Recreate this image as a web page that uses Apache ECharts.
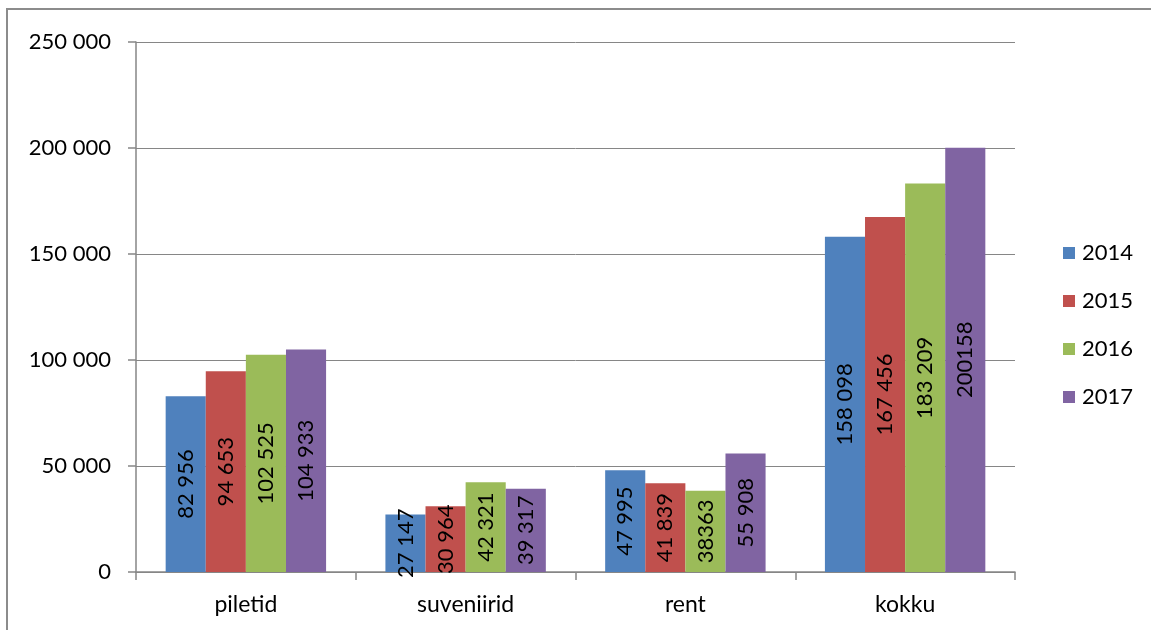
<!DOCTYPE html>
<html>
<head>
<meta charset="utf-8">
<script src="https://cdn.jsdelivr.net/npm/echarts@6/dist/echarts.min.js"></script>
<style>
html,body{margin:0;padding:0;background:#fff;}
#chart{position:absolute;left:0;top:0;width:1151px;height:630px;}
#frame{position:absolute;left:6px;top:8px;width:1170px;height:650px;border:2px solid #8c8c8c;pointer-events:none;}
</style>
</head>
<body>
<div id="chart"></div>
<div id="frame"></div>
<script>
const categories = ['piletid', 'suveniirid', 'rent', 'kokku'];
const seriesNames = ['2014', '2015', '2016', '2017'];
const values2014 = [82956, 27147, 47995, 158098];
const values2015 = [94653, 30964, 41839, 167456];
const values2016 = [102525, 42321, 38363, 183209];
const values2017 = [104933, 39317, 55908, 200158];
const labels2014 = ['82 956', '27 147', '47 995', '158 098'];
const labels2015 = ['94 653', '30 964', '41 839', '167 456'];
const labels2016 = ['102 525', '42 321', '38363', '183 209'];
const labels2017 = ['104 933', '39 317', '55 908', '200158'];
const yTicks = [0, 50000, 100000, 150000, 200000, 250000];
const colors = ['#4F81BD', '#C0504D', '#9BBB59', '#8064A2'];

const allValues = [values2014, values2015, values2016, values2017];
const allLabels = [labels2014, labels2015, labels2016, labels2017];
const FONT = 'Lato, "Open Sans", sans-serif';

function fmt(v) {
  return String(v).replace(/\B(?=(\d{3})+(?!\d))/g, ' ');
}

const chart = echarts.init(document.getElementById('chart'));
chart.setOption({
  animation: false,
  color: colors,
  textStyle: {fontFamily: FONT},
  grid: {left: 136, right: 136, top: 42, bottom: 58},
  legend: {
    orient: 'vertical',
    left: 1058,
    top: 237,
    itemWidth: 12,
    itemHeight: 12,
    itemGap: 26,
    icon: 'rect',
    data: seriesNames,
    textStyle: {fontSize: 22, color: '#000', fontFamily: FONT, padding: [0, 0, 0, 2]}
  },
  xAxis: {
    type: 'category',
    data: categories,
    axisLine: {lineStyle: {color: '#868686', width: 1.5}},
    axisTick: {show: true, length: 8, lineStyle: {color: '#868686', width: 1.5}},
    axisLabel: {fontSize: 23, color: '#000', margin: 21, fontFamily: FONT}
  },
  yAxis: {
    type: 'value',
    min: yTicks[0],
    max: yTicks[yTicks.length - 1],
    interval: 50000,
    axisLine: {show: true, lineStyle: {color: '#868686', width: 1.5}},
    axisTick: {show: true, length: 8, lineStyle: {color: '#868686', width: 1.5}},
    splitLine: {lineStyle: {color: '#868686', width: 1}},
    axisLabel: {fontSize: 22, color: '#000', margin: 25, fontFamily: FONT, formatter: fmt}
  },
  series: seriesNames.map((name, i) => ({
    name: name,
    type: 'bar',
    barGap: '0%',
    barCategoryGap: '27%',
    data: allValues[i],
    itemStyle: {color: colors[i]},
    label: {
      show: true,
      position: 'inside',
      rotate: 90,
      fontSize: 22,
      color: '#000',
      fontFamily: FONT,
      formatter: p => allLabels[i][p.dataIndex]
    }
  }))
});
</script>
</body>
</html>
